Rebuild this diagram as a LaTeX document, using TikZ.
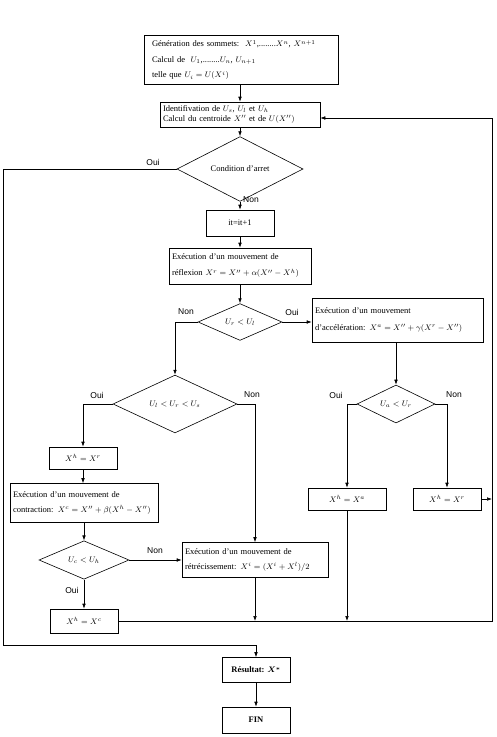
\documentclass[tikz,border=0pt]{standalone}
\usepackage{fontspec}
\setmainfont{Liberation Serif}
\newfontfamily\labfont{Liberation Sans}
\usetikzlibrary{shapes.geometric,arrows.meta}
\begin{document}
\begin{tikzpicture}[x=1pt,y=-1pt,
  every node/.style={inner sep=0pt},
  boxt/.style={draw,line width=0.6pt,font=\fontsize{8.5}{10.5}\selectfont},
  lbox/.style={boxt,align=left,inner xsep=3pt},
  cbox/.style={boxt,align=center},
  dia/.style={draw,diamond,line width=0.6pt,inner sep=0pt,font=\fontsize{8.5}{10}\selectfont},
  lab/.style={font=\labfont\fontsize{8.5}{10}\selectfont},
  arr/.style={-{Latex[length=5pt,width=3.6pt]},line width=0.6pt},
  ln/.style={line width=0.6pt}]
\fill[white] (0,0) rectangle (496,737);
\useasboundingbox (0,0) rectangle (496,737);
% nodes
\node[lbox,text width=188pt,minimum height=49pt,font=\fontsize{8.5}{15.5}\selectfont] (gen) at (241,60)
  {\hspace*{5pt}Génération des sommets:\ \ $X^1$,........$X^n$, $X^{n+1}$\\
   \hspace*{5pt}Calcul de\ \ $U_1$,........$U_n$, $U_{n+1}$\\
   \hspace*{5pt}telle que $U_i=U(X^i)$};
\node[lbox,text width=154pt,minimum height=25pt] (ident) at (240,114.5)
  {Identifivation de $U_s$, $U_l$ et $U_h$\\ Calcul du centroide $X''$ et de $U(X'')$};
\node[dia,minimum width=126pt,minimum height=38pt] (cond) at (240,169) {Condition d'arret};
\node[cbox,minimum width=68pt,minimum height=26pt] (it) at (240,223) {it=it+1};
\node[lbox,text width=136pt,minimum height=36pt,font=\fontsize{8.5}{16}\selectfont] (refl) at (240,266)
  {Exécution d'un mouvement de\\ réflexion $X^r = X''+\alpha(X''-X^h)$};
\node[dia,minimum width=84pt,minimum height=36pt] (d1) at (240,322) {$U_r<U_l$};
\node[lbox,text width=165pt,minimum height=44pt,font=\fontsize{8.5}{17}\selectfont] (acc) at (397.5,320)
  {Exécution d'un mouvement\\ d'accélération: $X^a = X''+\gamma(X^r-X'')$};
\node[dia,minimum width=78pt,minimum height=30pt] (d2) at (396,404) {$U_a<U_r$};
\node[cbox,minimum width=78pt,minimum height=22pt] (xa) at (347,499) {$X^h=X^a$};
\node[cbox,minimum width=68pt,minimum height=22pt] (xe) at (447,499) {$X^h=X^r$};
\node[dia,minimum width=124pt,minimum height=36pt] (d3) at (175,404) {$U_l<U_r<U_s$};
\node[cbox,minimum width=68pt,minimum height=22pt] (xr) at (83,458) {$X^h=X^r$};
\node[lbox,text width=142pt,minimum height=39pt,font=\fontsize{8.5}{15}\selectfont] (contr) at (84,503)
  {Exécution d'un mouvement de\\ contraction: $X^c = X''+\beta(X^h-X'')$};
\node[dia,minimum width=90pt,minimum height=36pt] (d4) at (84,560) {$U_c<U_h$};
\node[lbox,text width=140pt,minimum height=35pt,font=\fontsize{8.5}{15}\selectfont] (shrink) at (255,560)
  {Exécution d'un mouvement de\\ rétrécissement: $X^i=(X^i+X^l)/2$};
\node[cbox,minimum width=68pt,minimum height=24pt] (xc) at (84,621) {$X^h=X^c$};
\node[cbox,minimum width=68pt,minimum height=25pt,font=\fontsize{8.5}{10}\bfseries\boldmath] (res) at (256,670) {Résultat: $X^*$};
\node[cbox,minimum width=68pt,minimum height=26pt,font=\fontsize{8.5}{10}\bfseries] (fin) at (256,720) {FIN};
% labels
\node[lab] (l1) at (153,162) {Oui};
\node[lab,anchor=west] (l2) at (243,200) {Non};
\node[lab] (l3) at (186,312) {Non};
\node[lab] (l4) at (292,312) {Oui};
\node[lab] (l5) at (336,395) {Oui};
\node[lab] (l6) at (454,395) {Non};
\node[lab] (l7) at (97,395) {Oui};
\node[lab] (l8) at (252,395) {Non};
\node[lab] (l9) at (155,551) {Non};
\node[lab] (l10) at (72,590) {Oui};
% coordinates
\coordinate (L1) at (3,169);
\coordinate (L2) at (3,645);
\coordinate (L3) at (256,645);
\coordinate (R1) at (492,621);
\coordinate (R2) at (492,118);
% connectors
\draw[arr] (gen.south -| ident.north) -- (ident.north);
\draw[arr] (ident.south) -- (cond.north);
\draw[arr] (cond.west) -- (L1) -- (L2) -- (L3) -- (res.north);
\draw[arr] (cond.south) -- (it.north);
\draw[arr] (it.south) -- (refl.north);
\draw[arr] (refl.south) -- (d1.north);
\draw[arr] (d1.east) -- (acc.west |- d1.east);
\draw[arr] (d2.north |- acc.south) -- (d2.north);
\draw[arr] (d2.west) -| (xa.north);
\draw[arr] (d2.east) -| (xe.north);
\draw[arr] (d1.west) -| (d3.north);
\draw[arr] (d3.west) -| (xr.north);
\draw[arr] (d3.east) -| (shrink.north);
\draw[arr] (xr.south) -- (xr.south |- contr.north);
\draw[arr] (contr.south -| d4.north) -- (d4.north);
\draw[arr] (d4.east) -- (shrink.west);
\draw[arr] (d4.south) -- (xc.north);
\draw[arr] (xc.east) -- (R1) -- (R2) -- (ident.east |- R2);
\draw[arr] (shrink.south) -- (shrink.south |- R1);
\draw[arr] (xa.south) -- (xa.south |- R1);
\draw[arr] (xe.east) -- (xe.east -| R1);
\draw[arr] (res.south) -- (fin.north);
\end{tikzpicture}
\end{document}
